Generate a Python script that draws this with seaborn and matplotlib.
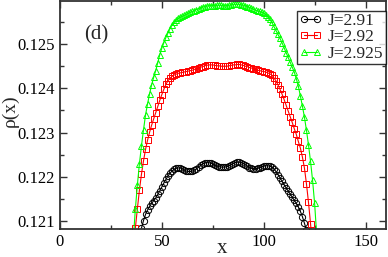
import seaborn as sns
import matplotlib.pyplot as plt
import pandas as pd
from matplotlib.ticker import MultipleLocator

# datos (rho(x) para cada J)
x_j291 = list(range(40, 122))
rho_j291 = [0.12084, 0.12101, 0.12115, 0.12125, 0.12133, 0.12140, 0.12146, 0.12152, 0.12160, 0.12168,
            0.12177, 0.12186, 0.12194, 0.12202, 0.12208, 0.12213, 0.12217, 0.12219, 0.12220, 0.12220,
            0.12218, 0.12215, 0.12213, 0.12212, 0.12212, 0.12213, 0.12215, 0.12218, 0.12222, 0.12226,
            0.12229, 0.12231, 0.12232, 0.12232, 0.12231, 0.12229, 0.12226, 0.12224, 0.12223, 0.12222,
            0.12222, 0.12222, 0.12223, 0.12225, 0.12227, 0.12230, 0.12232, 0.12233, 0.12233, 0.12232,
            0.12230, 0.12227, 0.12224, 0.12221, 0.12219, 0.12218, 0.12218, 0.12219, 0.12220, 0.12222,
            0.12224, 0.12225, 0.12225, 0.12224, 0.12222, 0.12218, 0.12212, 0.12205, 0.12198, 0.12190,
            0.12182, 0.12175, 0.12168, 0.12161, 0.12154, 0.12147, 0.12140, 0.12132, 0.12122, 0.12110,
            0.12095, 0.12080]

x_j292 = list(range(37, 125))
rho_j292 = [0.12084, 0.12128, 0.12170, 0.12206, 0.12236, 0.12262, 0.12283, 0.12301, 0.12317, 0.12331,
            0.12345, 0.12359, 0.12373, 0.12386, 0.12398, 0.12409, 0.12417, 0.12423, 0.12427, 0.12430,
            0.12432, 0.12434, 0.12435, 0.12436, 0.12437, 0.12438, 0.12439, 0.12440, 0.12441, 0.12443,
            0.12444, 0.12446, 0.12448, 0.12449, 0.12451, 0.12452, 0.12453, 0.12453, 0.12453, 0.12452,
            0.12451, 0.12451, 0.12450, 0.12450, 0.12450, 0.12450, 0.12451, 0.12452, 0.12453, 0.12453,
            0.12454, 0.12454, 0.12453, 0.12452, 0.12450, 0.12449, 0.12447, 0.12446, 0.12444, 0.12443,
            0.12441, 0.12440, 0.12439, 0.12438, 0.12437, 0.12435, 0.12433, 0.12430, 0.12424, 0.12417,
            0.12408, 0.12398, 0.12387, 0.12375, 0.12362, 0.12349, 0.12336, 0.12323, 0.12309, 0.12296,
            0.12280, 0.12265, 0.12245, 0.12220, 0.12184, 0.12142, 0.12094, 0.12040]

x_j2925 = list(range(36, 127))
rho_j2925 = [0.12060, 0.12127, 0.12182, 0.12230, 0.12270, 0.12306, 0.12340, 0.12365, 0.12388, 0.12408,
             0.12425, 0.12440, 0.12458, 0.12476, 0.12491, 0.12503, 0.12515, 0.12525, 0.12535, 0.12543,
             0.12549, 0.12554, 0.12558, 0.12561, 0.12563, 0.12565, 0.12567, 0.12570, 0.12572, 0.12574,
             0.12576, 0.12578, 0.12580, 0.12582, 0.12584, 0.12585, 0.12586, 0.12587, 0.12587, 0.12587,
             0.12587, 0.12588, 0.12588, 0.12588, 0.12587, 0.12587, 0.12587, 0.12588, 0.12589, 0.12590,
             0.12590, 0.12590, 0.12590, 0.12589, 0.12588, 0.12587, 0.12585, 0.12583, 0.12581, 0.12579,
             0.12577, 0.12575, 0.12574, 0.12572, 0.12570, 0.12566, 0.12562, 0.12556, 0.12549, 0.12540,
             0.12531, 0.12522, 0.12513, 0.12503, 0.12492, 0.12481, 0.12470, 0.12459, 0.12448, 0.12437,
             0.12422, 0.12405, 0.12383, 0.12360, 0.12335, 0.12305, 0.12272, 0.12235, 0.12192, 0.12140,
             0.12070]

series = [
    ("J=2.91", x_j291, rho_j291, "black", "o"),
    ("J=2.92", x_j292, rho_j292, "red", "s"),
    ("J=2.925", x_j2925, rho_j2925, "#00ff00", "^"),
]

sns.set_style("ticks")
plt.rcParams['font.family'] = ['Liberation Serif', 'DejaVu Serif']

fig = plt.figure(figsize=(3.88, 2.57), dpi=100)
ax = fig.add_axes([0.1546, 0.109, 0.840, 0.888])

for label, xs, ys, color, marker in series:
    df = pd.DataFrame({"x": xs, "rho": ys})
    sns.lineplot(data=df, x="x", y="rho", ax=ax, color=color, lw=0.8,
                 marker=marker, markersize=4.5, markerfacecolor="none",
                 markeredgecolor=color, markeredgewidth=0.7, label=label)

ax.set_xlim(0, 160)
ax.set_ylim(0.12082, 0.12598)
ax.xaxis.set_major_locator(MultipleLocator(50))
ax.xaxis.set_minor_locator(MultipleLocator(25))
ax.yaxis.set_major_locator(MultipleLocator(0.001))
ax.yaxis.set_minor_locator(MultipleLocator(0.0005))
ax.tick_params(which="both", direction="in", top=True, right=True, labelsize=12, width=1.0,
               colors="#333333", labelcolor="black")
ax.tick_params(which="major", length=5)
ax.tick_params(which="minor", length=3)
for s in ax.spines.values():
    s.set_linewidth(1.3)
    s.set_color("#333333")

ax.set_xlabel("x", fontsize=15)
ax.set_ylabel("ρ(x)", fontsize=14)
ax.xaxis.set_label_coords(0.497, -0.045)
ax.yaxis.set_label_coords(-0.128, 0.52)
ax.text(0.075, 0.83, "(d)", transform=ax.transAxes, fontsize=15)

leg = ax.legend(loc="upper right", bbox_to_anchor=(1.0, 0.957), numpoints=2, handlelength=1.35,
                fontsize=12.5, frameon=True, fancybox=False, borderpad=0.15, labelspacing=0.0,
                handletextpad=0.3, borderaxespad=0.0)
leg.get_frame().set_edgecolor("black")
leg.get_frame().set_linewidth(1.0)

fig.savefig("out.png", dpi=100)
